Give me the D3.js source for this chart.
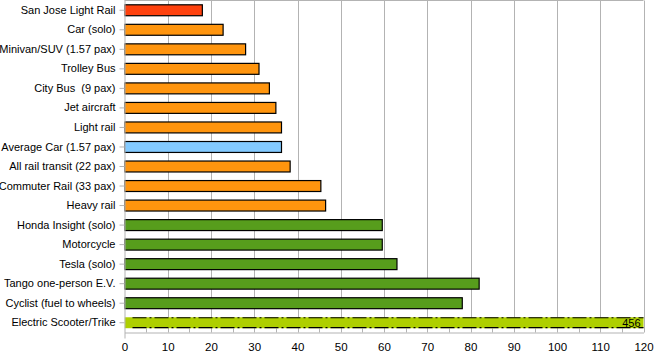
<!DOCTYPE html>
<html><head><meta charset="utf-8">
<script src="https://cdn.jsdelivr.net/npm/d3@7"></script>
<style>body{margin:0;background:#fff}svg{display:block}text{font-family:"Liberation Sans",Arial,sans-serif;white-space:pre}</style>
</head><body><svg id="c" width="655" height="357"></svg>
<script>
const categories = ["San Jose Light Rail","Car (solo)","Minivan/SUV (1.57 pax)","Trolley Bus","City Bus  (9 pax)","Jet aircraft","Light rail","Average Car (1.57 pax)","All rail transit (22 pax)","Commuter Rail (33 pax)","Heavy rail","Honda Insight (solo)","Motorcycle","Tesla (solo)","Tango one-person E.V.","Cyclist (fuel to wheels)","Electric Scooter/Trike"];
const values = [18.0,22.8,28.0,31.1,33.5,35.0,36.3,36.3,38.3,45.4,46.5,59.6,59.6,63.0,82.0,78.1,456];
const groups = ["red","orange","orange","orange","orange","orange","orange","blue","orange","orange","orange","green","green","green","green","green","lime"];
const xTicks = [0,10,20,30,40,50,60,70,80,90,100,110,120];
const xMinorTicks = [5,15,25,35,45,55,65,75,85,95,105,115];
const valueLabels = [{cat:"Electric Scooter/Trike", text:"456"}];

const colors = {red:"#ff420e",orange:"#ff950e",blue:"#83caff",green:"#579d1c",lime:"#aecf00"};
const svg = d3.select("#c");
const L=124.5, R=643.5, T=0.5, B=332.5;
const x = d3.scaleLinear().domain([0,120]).range([L,R]);
const y = d3.scaleBand().domain(categories).range([T,B]).paddingInner(0.44).paddingOuter(0.22);

svg.append("defs").append("clipPath").attr("id","clip").append("rect")
  .attr("x",L).attr("y",T).attr("width",R-L).attr("height",B-T);

const grid="#b3b3b3";
svg.append("g").selectAll("line").data(xTicks.slice(1)).join("line")
  .attr("x1",d=>Math.round(x(d))+0.5).attr("x2",d=>Math.round(x(d))+0.5)
  .attr("y1",T).attr("y2",B).attr("stroke",grid);
svg.append("line").attr("x1",L).attr("x2",R).attr("y1",T).attr("y2",T).attr("stroke",grid);

// minor ticks inward
svg.append("g").selectAll("line").data(xMinorTicks).join("line")
  .attr("x1",d=>Math.round(x(d))+0.5).attr("x2",d=>Math.round(x(d))+0.5)
  .attr("y1",B).attr("y2",B-4).attr("stroke",grid);

const bars = svg.append("g").attr("clip-path","url(#clip)");
bars.selectAll("rect").data(categories).join("rect")
  .attr("x",x(0)).attr("y",d=>y(d))
  .attr("width",(d,i)=>x(Math.min(values[i],125))-x(0))
  .attr("height",y.bandwidth())
  .attr("fill",(d,i)=>colors[groups[i]])
  .attr("stroke",(d,i)=>groups[i]==="lime"?"none":"#000")
  .attr("stroke-width",1.2);
// dashed border for the clipped bar
const li = groups.indexOf("lime");
[y(categories[li])+0.5, y(categories[li])+y.bandwidth()-0.5].forEach(yy=>{
  svg.append("line").attr("x1",x(0)+8).attr("x2",x(120)).attr("y1",yy).attr("y2",yy)
    .attr("stroke","#000").attr("stroke-width",1.2).attr("stroke-dasharray","14,3,2,3");
});

// axes
const xa = svg.append("g").attr("transform",`translate(0,${B})`)
  .call(d3.axisBottom(x).tickValues(xTicks).tickSize(0).tickPadding(10).tickFormat(d3.format("d")));
xa.select(".domain").attr("stroke",grid);
xa.selectAll("text").attr("font-size",11.5).attr("fill","#000");

const ya = svg.append("g").attr("transform",`translate(${L},0)`)
  .call(d3.axisLeft(y).tickSize(5).tickPadding(4));
ya.select(".domain").attr("stroke",grid).attr("d",`M0.5,${T}V${B+6}`);
ya.selectAll(".tick line").attr("stroke",grid);
ya.selectAll("text").attr("font-size",11).attr("fill","#000");

svg.append("g").selectAll("text").data(valueLabels).join("text")
  .attr("x",x(120)-3).attr("y",d=>y(d.cat)+y.bandwidth()/2)
  .attr("dy","0.35em").attr("text-anchor","end").attr("font-size",11).text(d=>d.text);
</script></body></html>
